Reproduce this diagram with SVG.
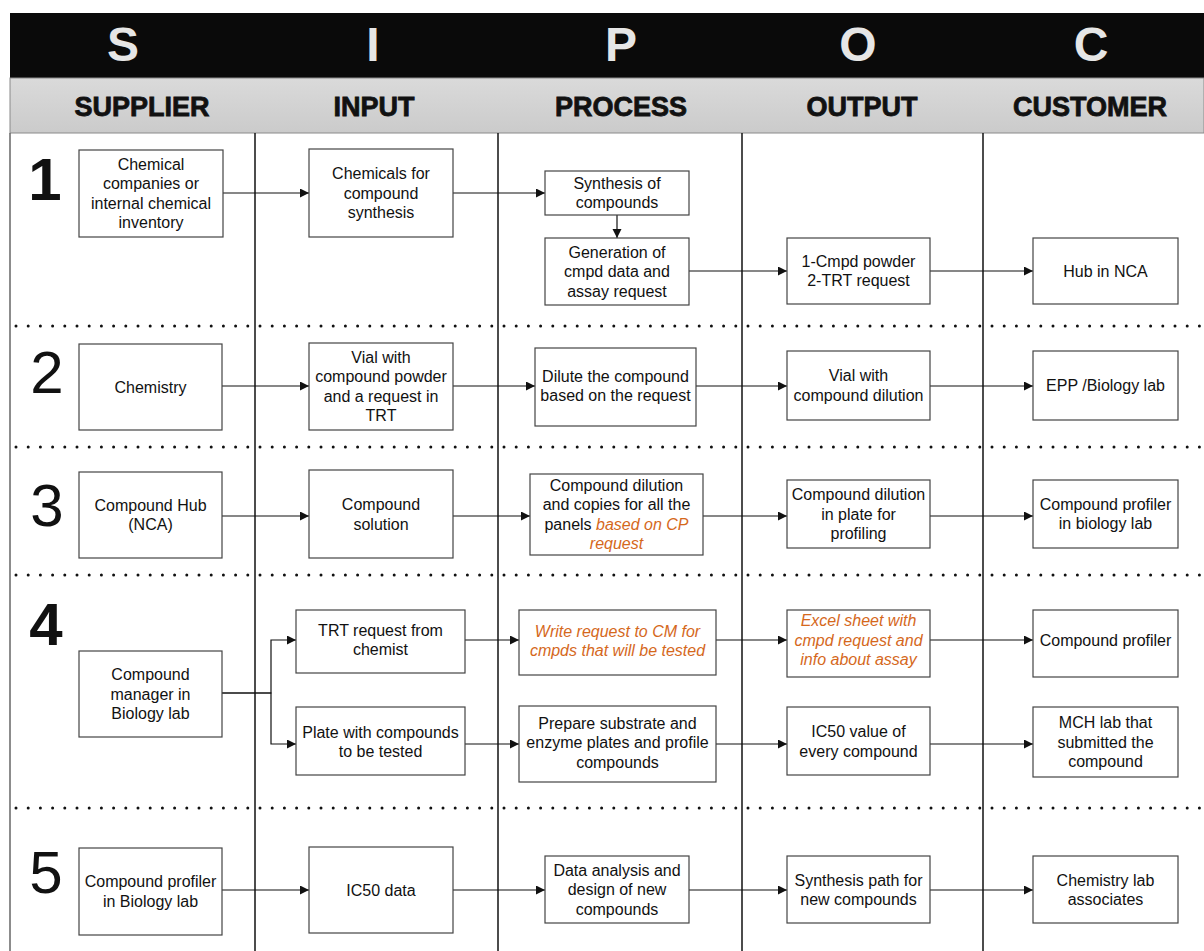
<svg xmlns="http://www.w3.org/2000/svg" width="1204" height="951" viewBox="0 0 1204 951">
  <style>
    .t { font-family: "Liberation Sans", Arial, sans-serif; font-size: 16px; fill: #111; text-anchor: middle; }
    .o { fill: #d5681c; font-style: italic; }
    .box { fill: #fff; stroke: #444; stroke-width: 1.2; }
    .lane { stroke: #111; stroke-width: 1.5; }
    .dot { stroke: #111; stroke-width: 3; stroke-linecap: round; stroke-dasharray: 0 12.2; }
    .big { font-family: "Liberation Sans", Arial, sans-serif; font-size: 48px; font-weight: bold; fill: #e6e6e6; text-anchor: middle; }
    .head { font-family: "Liberation Sans", Arial, sans-serif; font-size: 27px; font-weight: bold; fill: #111; stroke: #111; stroke-width: 0.8; text-anchor: middle; }
    .num { font-family: "Liberation Sans", Arial, sans-serif; font-size: 60px; fill: #111; text-anchor: middle; }
    .conn line, .conn polyline { stroke: #111; stroke-width: 1.2; fill: none; }
  </style>
  <defs>
    <marker id="arr" markerWidth="10" markerHeight="10" refX="9" refY="4.5" orient="auto" markerUnits="userSpaceOnUse">
      <path d="M0,0 L9,4.5 L0,9 z" fill="#111"/>
    </marker>
    <linearGradient id="grey" x1="0" y1="0" x2="0" y2="1">
      <stop offset="0" stop-color="#dadada"/>
      <stop offset="1" stop-color="#cbcbcb"/>
    </linearGradient>
  </defs>

  <rect x="0" y="0" width="1204" height="951" fill="#fff"/>

  <!-- header bands -->
  <g id="header">
    <rect x="10" y="13" width="1194" height="65" fill="#0a0a0a"/>
    <rect x="10" y="78" width="1194" height="55" fill="url(#grey)" stroke="#8a8a8a" stroke-width="1"/>
    <text class="big" x="123" y="61">S</text>
    <text class="big" x="373" y="61">I</text>
    <text class="big" x="621" y="61">P</text>
    <text class="big" x="858" y="61">O</text>
    <text class="big" x="1091" y="61">C</text>
    <text class="head" x="142" y="116">SUPPLIER</text>
    <text class="head" x="374" y="116">INPUT</text>
    <text class="head" x="621" y="116">PROCESS</text>
    <text class="head" x="862" y="116">OUTPUT</text>
    <text class="head" x="1090" y="116">CUSTOMER</text>
  </g>

  <!-- lanes and row separators -->
  <g id="grid">
    <line x1="10" y1="133" x2="10" y2="951" stroke="#666" stroke-width="1.5"/>
    <line class="lane" x1="255" y1="133" x2="255" y2="951"/>
    <line class="lane" x1="498" y1="133" x2="498" y2="951"/>
    <line class="lane" x1="742" y1="133" x2="742" y2="951"/>
    <line class="lane" x1="983" y1="133" x2="983" y2="951"/>
    <line class="dot" x1="16" y1="326" x2="1204" y2="326"/>
    <line class="dot" x1="16" y1="447" x2="1204" y2="447"/>
    <line class="dot" x1="16" y1="575" x2="1204" y2="575"/>
    <line class="dot" x1="16" y1="808" x2="1204" y2="808"/>
  </g>

  <!-- row numbers -->
  <g id="row-numbers">
    <text class="num" x="45" y="200" font-weight="bold">1</text>
    <text class="num" x="47" y="393">2</text>
    <text class="num" x="47" y="526">3</text>
    <text class="num" x="46" y="645" font-weight="bold">4</text>
    <text class="num" x="46" y="893">5</text>
  </g>

  <!-- connectors -->
  <g id="connectors" class="conn">
    <line x1="223" y1="193" x2="309" y2="193" marker-end="url(#arr)"/>
    <line x1="453" y1="193" x2="545" y2="193" marker-end="url(#arr)"/>
    <line x1="617" y1="215" x2="617" y2="238" marker-end="url(#arr)"/>
    <line x1="689" y1="271" x2="787" y2="271" marker-end="url(#arr)"/>
    <line x1="930" y1="271" x2="1033" y2="271" marker-end="url(#arr)"/>

    <line x1="222" y1="386" x2="309" y2="386" marker-end="url(#arr)"/>
    <line x1="453" y1="386" x2="535" y2="386" marker-end="url(#arr)"/>
    <line x1="696" y1="386" x2="787" y2="386" marker-end="url(#arr)"/>
    <line x1="930" y1="386" x2="1033" y2="386" marker-end="url(#arr)"/>

    <line x1="222" y1="516" x2="309" y2="516" marker-end="url(#arr)"/>
    <line x1="453" y1="516" x2="530" y2="516" marker-end="url(#arr)"/>
    <line x1="703" y1="516" x2="787" y2="516" marker-end="url(#arr)"/>
    <line x1="930" y1="516" x2="1033" y2="516" marker-end="url(#arr)"/>

    <polyline points="222,693 271,693 271,640 296,640" marker-end="url(#arr)"/>
    <polyline points="222,693 271,693 271,744 296,744" marker-end="url(#arr)"/>
    <line x1="465" y1="640" x2="519" y2="640" marker-end="url(#arr)"/>
    <line x1="716" y1="640" x2="787" y2="640" marker-end="url(#arr)"/>
    <line x1="930" y1="640" x2="1033" y2="640" marker-end="url(#arr)"/>
    <line x1="465" y1="744" x2="519" y2="744" marker-end="url(#arr)"/>
    <line x1="716" y1="744" x2="787" y2="744" marker-end="url(#arr)"/>
    <line x1="930" y1="744" x2="1033" y2="744" marker-end="url(#arr)"/>

    <line x1="222" y1="890" x2="309" y2="890" marker-end="url(#arr)"/>
    <line x1="453" y1="890" x2="545" y2="890" marker-end="url(#arr)"/>
    <line x1="689" y1="890" x2="787" y2="890" marker-end="url(#arr)"/>
    <line x1="930" y1="890" x2="1033" y2="890" marker-end="url(#arr)"/>
  </g>

  <!-- row 1 -->
  <g id="chemical-companies">
    <rect class="box" x="79" y="150" width="144" height="87"/>
    <text class="t" x="151" y="169.5">Chemical</text>
    <text class="t" x="151" y="189">companies or</text>
    <text class="t" x="151" y="208.5">internal chemical</text>
    <text class="t" x="151" y="228">inventory</text>
  </g>
  <g id="chemicals-for-synthesis">
    <rect class="box" x="309" y="149" width="144" height="88"/>
    <text class="t" x="381" y="179">Chemicals for</text>
    <text class="t" x="381" y="198.5">compound</text>
    <text class="t" x="381" y="218">synthesis</text>
  </g>
  <g id="synthesis-of-compounds">
    <rect class="box" x="545" y="171" width="144" height="44"/>
    <text class="t" x="617" y="188.5">Synthesis of</text>
    <text class="t" x="617" y="208">compounds</text>
  </g>
  <g id="generation-of-data">
    <rect class="box" x="545" y="238" width="144" height="67"/>
    <text class="t" x="617" y="257.5">Generation of</text>
    <text class="t" x="617" y="277">cmpd data and</text>
    <text class="t" x="617" y="296.5">assay request</text>
  </g>
  <g id="cmpd-powder-trt">
    <rect class="box" x="787" y="238" width="143" height="66"/>
    <text class="t" x="858.5" y="266.5">1-Cmpd powder</text>
    <text class="t" x="858.5" y="286">2-TRT request</text>
  </g>
  <g id="hub-in-nca">
    <rect class="box" x="1033" y="238" width="145" height="66"/>
    <text class="t" x="1105.5" y="276.5">Hub in NCA</text>
  </g>

  <!-- row 2 -->
  <g id="chemistry">
    <rect class="box" x="79" y="344" width="143" height="86"/>
    <text class="t" x="150.5" y="392.5">Chemistry</text>
  </g>
  <g id="vial-with-powder">
    <rect class="box" x="309" y="343" width="144" height="87"/>
    <text class="t" x="381" y="362.75">Vial with</text>
    <text class="t" x="381" y="382.25">compound powder</text>
    <text class="t" x="381" y="401.75">and a request in</text>
    <text class="t" x="381" y="421.25">TRT</text>
  </g>
  <g id="dilute-compound">
    <rect class="box" x="535" y="348" width="161" height="78"/>
    <text class="t" x="615.5" y="381.75">Dilute the compound</text>
    <text class="t" x="615.5" y="401.25">based on the request</text>
  </g>
  <g id="vial-with-dilution">
    <rect class="box" x="787" y="351" width="143" height="69"/>
    <text class="t" x="858.5" y="381">Vial with</text>
    <text class="t" x="858.5" y="400.5">compound dilution</text>
  </g>
  <g id="epp-biology-lab">
    <rect class="box" x="1033" y="351" width="145" height="69"/>
    <text class="t" x="1105.5" y="391">EPP /Biology lab</text>
  </g>

  <!-- row 3 -->
  <g id="compound-hub">
    <rect class="box" x="79" y="472" width="143" height="86"/>
    <text class="t" x="150.5" y="510.5">Compound Hub</text>
    <text class="t" x="150.5" y="530">(NCA)</text>
  </g>
  <g id="compound-solution">
    <rect class="box" x="309" y="470" width="144" height="88"/>
    <text class="t" x="381" y="510">Compound</text>
    <text class="t" x="381" y="529.5">solution</text>
  </g>
  <g id="compound-dilution-copies">
    <rect class="box" x="530" y="474" width="173" height="81"/>
    <text class="t" x="616.5" y="490.75">Compound dilution</text>
    <text class="t" x="616.5" y="510.25">and copies for all the</text>
    <text class="t" x="616.5" y="529.75">panels <tspan class="o">based on CP</tspan></text>
    <text class="t o" x="616.5" y="549.25">request</text>
  </g>
  <g id="dilution-in-plate">
    <rect class="box" x="787" y="480" width="143" height="68"/>
    <text class="t" x="858.5" y="500">Compound dilution</text>
    <text class="t" x="858.5" y="519.5">in plate for</text>
    <text class="t" x="858.5" y="539">profiling</text>
  </g>
  <g id="profiler-in-biology-lab">
    <rect class="box" x="1033" y="480" width="145" height="68"/>
    <text class="t" x="1105.5" y="509.5">Compound profiler</text>
    <text class="t" x="1105.5" y="529">in biology lab</text>
  </g>

  <!-- row 4 -->
  <g id="compound-manager">
    <rect class="box" x="79" y="651" width="143" height="86"/>
    <text class="t" x="150.5" y="680">Compound</text>
    <text class="t" x="150.5" y="699.5">manager in</text>
    <text class="t" x="150.5" y="719">Biology lab</text>
  </g>
  <g id="trt-request">
    <rect class="box" x="296" y="610" width="169" height="63"/>
    <text class="t" x="380.5" y="635.5">TRT request from</text>
    <text class="t" x="380.5" y="655">chemist</text>
  </g>
  <g id="plate-with-compounds">
    <rect class="box" x="296" y="707" width="169" height="68"/>
    <text class="t" x="380.5" y="737.5">Plate with compounds</text>
    <text class="t" x="380.5" y="757">to be tested</text>
  </g>
  <g id="write-request">
    <rect class="box" x="519" y="610" width="197" height="65"/>
    <text class="t o" x="617.5" y="636.5">Write request to CM for</text>
    <text class="t o" x="617.5" y="656">cmpds that will be tested</text>
  </g>
  <g id="excel-sheet">
    <rect class="box" x="787" y="610" width="143" height="67"/>
    <text class="t o" x="858.5" y="626">Excel sheet with</text>
    <text class="t o" x="858.5" y="645.5">cmpd request and</text>
    <text class="t o" x="858.5" y="665">info about assay</text>
  </g>
  <g id="compound-profiler">
    <rect class="box" x="1033" y="610" width="145" height="67"/>
    <text class="t" x="1105.5" y="645.5">Compound profiler</text>
  </g>
  <g id="prepare-plates">
    <rect class="box" x="519" y="706" width="197" height="76"/>
    <text class="t" x="617.5" y="728.5">Prepare substrate and</text>
    <text class="t" x="617.5" y="748">enzyme plates and profile</text>
    <text class="t" x="617.5" y="767.5">compounds</text>
  </g>
  <g id="ic50-value">
    <rect class="box" x="787" y="707" width="143" height="68"/>
    <text class="t" x="858.5" y="737">IC50 value of</text>
    <text class="t" x="858.5" y="756.5">every compound</text>
  </g>
  <g id="mch-lab">
    <rect class="box" x="1033" y="707" width="145" height="70"/>
    <text class="t" x="1105.5" y="728">MCH lab that</text>
    <text class="t" x="1105.5" y="747.5">submitted the</text>
    <text class="t" x="1105.5" y="767">compound</text>
  </g>

  <!-- row 5 -->
  <g id="profiler-biology-lab">
    <rect class="box" x="79" y="848" width="143" height="87"/>
    <text class="t" x="150.5" y="887">Compound profiler</text>
    <text class="t" x="150.5" y="906.5">in Biology lab</text>
  </g>
  <g id="ic50-data">
    <rect class="box" x="309" y="847" width="144" height="86"/>
    <text class="t" x="381" y="896">IC50 data</text>
  </g>
  <g id="data-analysis">
    <rect class="box" x="545" y="856" width="144" height="67"/>
    <text class="t" x="617" y="875.5">Data analysis and</text>
    <text class="t" x="617" y="895">design of new</text>
    <text class="t" x="617" y="914.5">compounds</text>
  </g>
  <g id="synthesis-path">
    <rect class="box" x="787" y="856" width="143" height="67"/>
    <text class="t" x="858.5" y="885.5">Synthesis path for</text>
    <text class="t" x="858.5" y="905">new compounds</text>
  </g>
  <g id="chemistry-lab-associates">
    <rect class="box" x="1033" y="856" width="145" height="67"/>
    <text class="t" x="1105.5" y="885.5">Chemistry lab</text>
    <text class="t" x="1105.5" y="905">associates</text>
  </g>
</svg>
